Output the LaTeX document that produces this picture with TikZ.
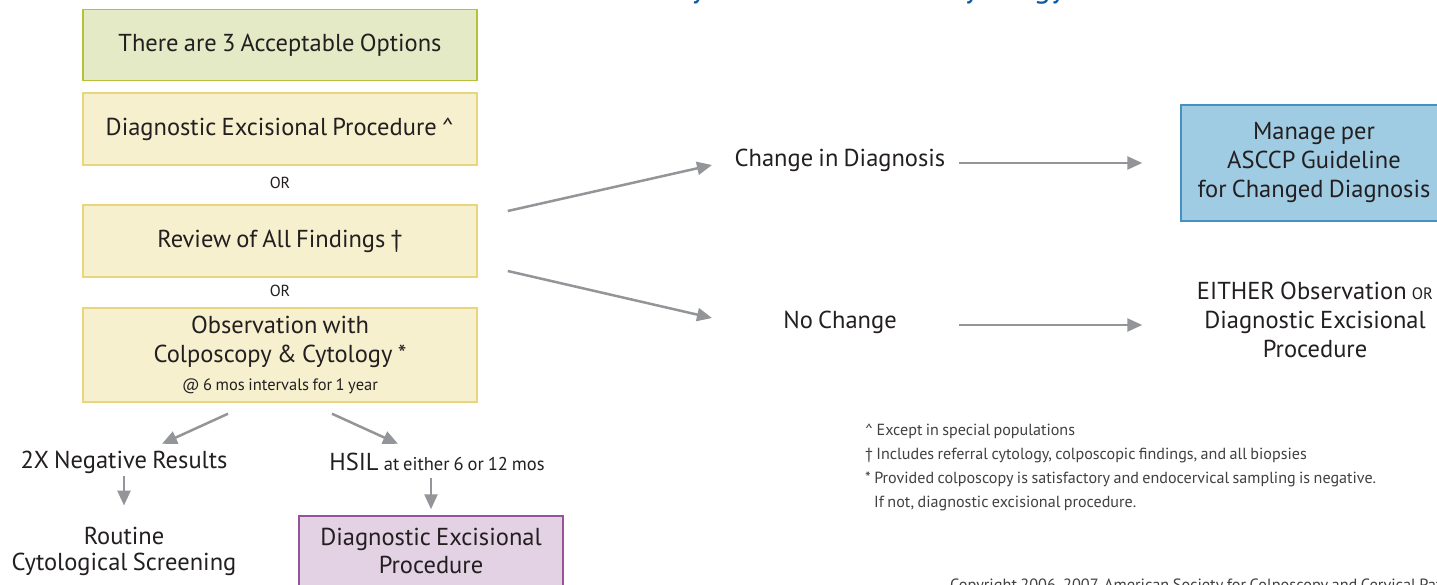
\documentclass[tikz,border=0pt]{standalone}
\usepackage{fontspec}
\setmainfont{PT Sans}[WordSpace=0.8]
\newfontfamily\titlefont{PT Sans}[WordSpace=0.7]
\usetikzlibrary{arrows.meta,calc}
\definecolor{txt}{HTML}{231F20}
\definecolor{fngray}{HTML}{414042}
\definecolor{arrgray}{HTML}{939598}
\definecolor{titleblue}{HTML}{0D5CA6}
\definecolor{grnfill}{HTML}{E4EAC5}
\definecolor{grnline}{HTML}{B5C236}
\definecolor{yelfill}{HTML}{F6F0CE}
\definecolor{yelline}{HTML}{E9D67C}
\definecolor{purfill}{HTML}{E3D1E4}
\definecolor{purline}{HTML}{93549A}
\definecolor{blufill}{HTML}{9FCBE3}
\definecolor{bluline}{HTML}{4592C2}
\begin{document}
\begin{tikzpicture}[x=1pt,y=-1pt,
  font=\fontsize{24.5}{26}\selectfont, text=txt,
  box/.style={draw, line width=1.5pt, minimum width=394pt, inner sep=0pt, align=center},
  arr/.style={draw=arrgray, line width=2.5pt, -{Triangle[length=15pt,width=13pt]}},
  lbl/.style={inner sep=0pt, text height=16pt, text depth=5pt, align=center},
  ortxt/.style={inner sep=0pt, font=\fontsize{16}{18}\selectfont}
]
\useasboundingbox (0,0) rectangle (1437,585);
\clip (0,0) rectangle (1437,585);
\fill[white] (0,0) rectangle (1437,585);
% title (cut off at top)
\node[anchor=base east, inner sep=0pt, font=\titlefont\fontsize{32}{38}\selectfont, text=titleblue] (title) at (1066,-2) {Preceded by HSIL or AGC-NOS Cytology};
% left column
\node[box, fill=grnfill, draw=grnline, minimum height=71pt] (opts) at (280,45) {There are 3 Acceptable Options};
\node[box, fill=yelfill, draw=yelline, minimum height=72pt] (dep) at (280,129) {Diagnostic Excisional Procedure \textasciicircum};
\node[ortxt] (or1) at (280,183) {OR};
\node[box, fill=yelfill, draw=yelline, minimum height=72pt] (rev) at (280,241) {Review of All Findings †};
\node[ortxt] (or2) at (280,291) {OR};
\node[box, fill=yelfill, draw=yelline, minimum height=94pt, font=\fontsize{24.5}{28.5}\selectfont] (obs) at (280,355) {Observation with\\Colposcopy \& Cytology *\\{\fontsize{16.5}{18}\selectfont @ 6 mos intervals for 1 year}};
\node[lbl] (neg) at (124,463) {2X Negative Results};
\node[lbl] (hsil) at (437,465) {HSIL {\fontsize{18.5}{19}\selectfont at either 6 or 12 mos}};
\node[align=center, inner sep=0pt] (rout) at (124,551) {Routine\\Cytological Screening};
\node[box, fill=purfill, draw=purline, minimum width=264pt, minimum height=70pt, font=\fontsize{24.5}{28}\selectfont] (dep2) at (431,551) {Diagnostic Excisional\\Procedure};
% middle and right
\node[lbl] (chg) at (840,161) {Change in Diagnosis};
\node[lbl] (noch) at (840,323) {No Change};
\node[box, fill=blufill, draw=bluline, minimum width=266pt, minimum height=116pt, font=\fontsize{24.5}{29}\selectfont] (asccp) at (1314,163) {Manage per\\ASCCP Guideline\\for Changed Diagnosis};
\node[align=center, inner sep=0pt, font=\fontsize{24.5}{29}\selectfont] (either) at (1315,320) {EITHER Observation {\fontsize{16.5}{18}\selectfont OR}\\Diagnostic Excisional\\Procedure};
% footnotes
\node[anchor=north west, align=left, inner sep=0pt, font=\fontsize{16.1}{24}\selectfont, text=fngray] (notes) at (865,424) {\textasciicircum\ Except in special populations\\† Includes referral cytology, colposcopic findings, and all biopsies\\* Provided colposcopy is satisfactory and endocervical sampling is negative.\\\hspace*{9pt}If not, diagnostic excisional procedure.};
\node[anchor=base west, inner sep=0pt, font=\fontsize{16.3}{18}\selectfont, text=fngray] (copy) at (950,590) {Copyright 2006, 2007, American Society for Colposcopy and Cervical Pathology};
% connectors
\draw[arr] ([shift={(-52,11)}]obs.south) -- ([shift={(38,-8.5)}]neg.north);
\draw[arr] ([shift={(52,11)}]obs.south) -- ([shift={(-39,-10.5)}]hsil.north);
\draw[arr, shorten <=2.5pt, shorten >=21pt] (neg.south) -- (neg.south |- rout.north);
\draw[arr, shorten <=2.5pt, shorten >=6pt] (dep2.north |- hsil.south) -- (dep2.north);
\draw[arr] ([shift={(30,-30)}]rev.east) -- ([shift={(-128,4)}]chg.center);
\draw[arr] ([shift={(30,30)}]rev.east) -- ([shift={(-128,-5)}]noch.center);
\draw[arr] ([shift={(119,2)}]chg.center) -- ([shift={(-38,2)}]chg.center -| asccp.west);
\draw[arr] ([shift={(119,2)}]noch.center) -- ([shift={(-38,2)}]noch.center -| asccp.west);
\end{tikzpicture}
\end{document}
